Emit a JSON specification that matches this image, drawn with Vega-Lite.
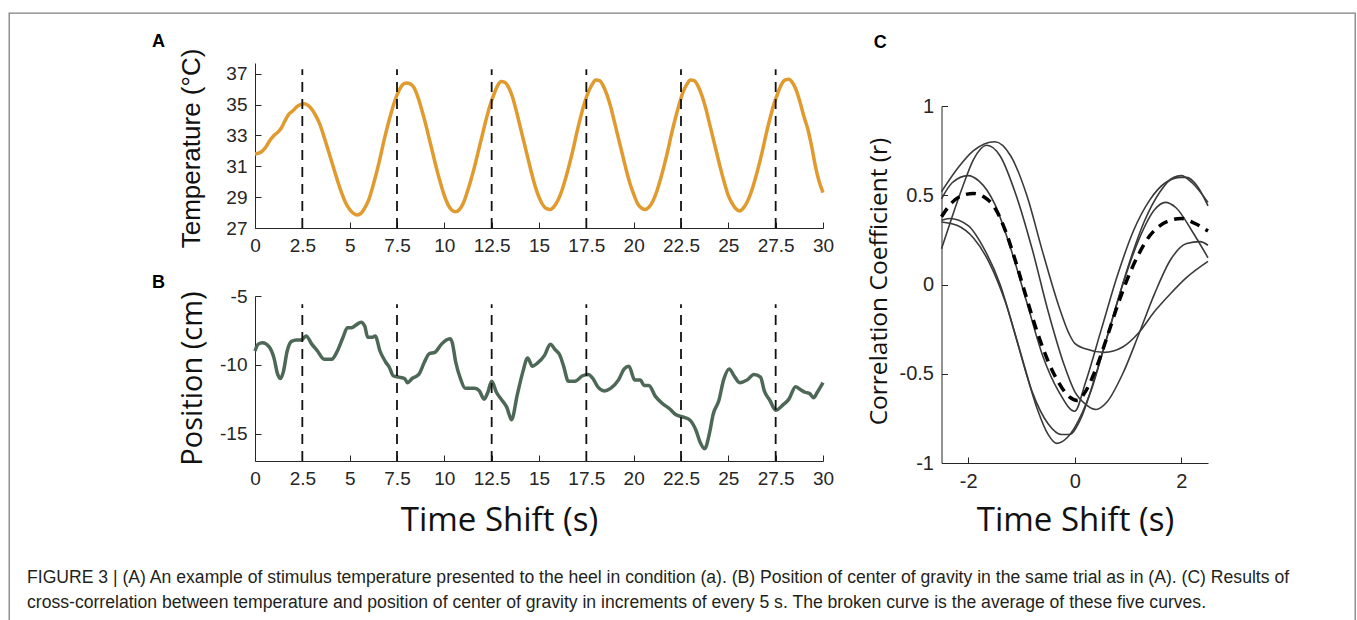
{
  "$schema": "https://vega.github.io/schema/vega-lite/v6.json",
  "width": 1346,
  "height": 608,
  "autosize": "none",
  "padding": {"left": 9, "top": 13, "right": 2, "bottom": 0},
  "background": "white",
  "title": {
    "text": [
      "FIGURE 3 | (A) An example of stimulus temperature presented to the heel in condition (a). (B) Position of center of gravity in the same trial as in (A). (C) Results of",
      "cross-correlation between temperature and position of center of gravity in increments of every 5 s. The broken curve is the average of these five curves."
    ],
    "orient": "bottom",
    "anchor": "start",
    "frame": "group",
    "offset": -52,
    "dx": 18,
    "font": "Liberation Sans",
    "fontSize": 17.6,
    "fontWeight": "normal",
    "color": "#231f20",
    "lineHeight": 25,
    "baseline": "top"
  },
  "config": {
    "view": {"stroke": "#808080", "strokeWidth": 1.3},
    "axis": {
      "domainColor": "#262626",
      "tickColor": "#262626",
      "labelColor": "#262626",
      "titleColor": "#111111",
      "grid": false,
      "tickSize": -6,
      "tickWidth": 1,
      "domainWidth": 1,
      "labelFlush": false,
      "labelOverlap": false,
      "titleFontWeight": "normal",
      "labelExpr": "datum.value + ''"
    }
  },
  "datasets": {
    "temp": [
      {"t":0,"v":31.8},{"t":0.2,"v":31.85},{"t":0.4,"v":32.0},{"t":0.6,"v":32.3},{"t":0.8,"v":32.7},{"t":1.0,"v":33.0},{"t":1.2,"v":33.2},{"t":1.4,"v":33.5},{"t":1.6,"v":34.0},{"t":1.8,"v":34.4},{"t":2.0,"v":34.6},{"t":2.2,"v":34.85},{"t":2.4,"v":35.0},{"t":2.6,"v":35.05},{"t":2.8,"v":34.95},{"t":3.0,"v":34.7},{"t":3.2,"v":34.3},{"t":3.4,"v":33.8},{"t":3.6,"v":33.1},{"t":3.8,"v":32.3},{"t":4.0,"v":31.5},{"t":4.2,"v":30.7},{"t":4.4,"v":29.9},{"t":4.6,"v":29.2},{"t":4.8,"v":28.6},{"t":5.0,"v":28.2},{"t":5.2,"v":27.95},{"t":5.4,"v":27.85},{"t":5.6,"v":27.95},{"t":5.8,"v":28.3},{"t":6.0,"v":28.8},{"t":6.2,"v":29.6},{"t":6.4,"v":30.5},{"t":6.6,"v":31.5},{"t":6.8,"v":32.6},{"t":7.0,"v":33.6},{"t":7.2,"v":34.5},{"t":7.4,"v":35.3},{"t":7.6,"v":35.9},{"t":7.8,"v":36.3},{"t":8.0,"v":36.4},{"t":8.2,"v":36.35},{"t":8.4,"v":36.1},{"t":8.6,"v":35.5},{"t":8.8,"v":34.7},{"t":9.0,"v":33.8},{"t":9.2,"v":32.8},{"t":9.4,"v":31.8},{"t":9.6,"v":30.8},{"t":9.8,"v":29.9},{"t":10.0,"v":29.1},{"t":10.2,"v":28.5},{"t":10.4,"v":28.15},{"t":10.6,"v":28.05},{"t":10.8,"v":28.2},{"t":11.0,"v":28.6},{"t":11.2,"v":29.3},{"t":11.4,"v":30.1},{"t":11.6,"v":31.0},{"t":11.8,"v":32.0},{"t":12.0,"v":33.0},{"t":12.2,"v":34.0},{"t":12.4,"v":34.9},{"t":12.6,"v":35.6},{"t":12.8,"v":36.2},{"t":13.0,"v":36.5},{"t":13.2,"v":36.45},{"t":13.4,"v":36.1},{"t":13.6,"v":35.5},{"t":13.8,"v":34.6},{"t":14.0,"v":33.6},{"t":14.2,"v":32.6},{"t":14.4,"v":31.6},{"t":14.6,"v":30.6},{"t":14.8,"v":29.7},{"t":15.0,"v":29.0},{"t":15.2,"v":28.5},{"t":15.4,"v":28.25},{"t":15.6,"v":28.2},{"t":15.8,"v":28.4},{"t":16.0,"v":28.8},{"t":16.2,"v":29.4},{"t":16.4,"v":30.2},{"t":16.6,"v":31.1},{"t":16.8,"v":32.1},{"t":17.0,"v":33.2},{"t":17.2,"v":34.2},{"t":17.4,"v":35.1},{"t":17.6,"v":35.8},{"t":17.8,"v":36.3},{"t":18.0,"v":36.6},{"t":18.2,"v":36.55},{"t":18.4,"v":36.2},{"t":18.6,"v":35.6},{"t":18.8,"v":34.8},{"t":19.0,"v":33.8},{"t":19.2,"v":32.8},{"t":19.4,"v":31.8},{"t":19.6,"v":30.8},{"t":19.8,"v":29.9},{"t":20.0,"v":29.2},{"t":20.2,"v":28.6},{"t":20.4,"v":28.3},{"t":20.6,"v":28.2},{"t":20.8,"v":28.35},{"t":21.0,"v":28.7},{"t":21.2,"v":29.3},{"t":21.4,"v":30.1},{"t":21.6,"v":31.0},{"t":21.8,"v":32.0},{"t":22.0,"v":33.1},{"t":22.2,"v":34.1},{"t":22.4,"v":35.0},{"t":22.6,"v":35.8},{"t":22.8,"v":36.3},{"t":23.0,"v":36.6},{"t":23.2,"v":36.55},{"t":23.4,"v":36.2},{"t":23.6,"v":35.6},{"t":23.8,"v":34.8},{"t":24.0,"v":33.8},{"t":24.2,"v":32.8},{"t":24.4,"v":31.8},{"t":24.6,"v":30.8},{"t":24.8,"v":29.9},{"t":25.0,"v":29.1},{"t":25.2,"v":28.6},{"t":25.4,"v":28.25},{"t":25.6,"v":28.1},{"t":25.8,"v":28.3},{"t":26.0,"v":28.7},{"t":26.2,"v":29.3},{"t":26.4,"v":30.1},{"t":26.6,"v":31.0},{"t":26.8,"v":32.0},{"t":27.0,"v":33.1},{"t":27.2,"v":34.1},{"t":27.4,"v":35.0},{"t":27.6,"v":35.7},{"t":27.8,"v":36.3},{"t":28.0,"v":36.6},{"t":28.2,"v":36.65},{"t":28.4,"v":36.4},{"t":28.6,"v":35.9},{"t":28.8,"v":35.1},{"t":29.0,"v":34.2},{"t":29.2,"v":33.4},{"t":29.4,"v":32.3},{"t":29.6,"v":31.0},{"t":29.8,"v":30.0},{"t":30.0,"v":29.3}
    ],
    "pos": [
      {"t":0,"v":-9.0},{"t":0.17,"v":-8.5},{"t":0.4,"v":-8.4},{"t":0.75,"v":-8.7},{"t":1.0,"v":-9.5},{"t":1.2,"v":-10.7},{"t":1.35,"v":-11.0},{"t":1.5,"v":-10.5},{"t":1.7,"v":-9.0},{"t":1.93,"v":-8.3},{"t":2.2,"v":-8.2},{"t":2.45,"v":-8.2},{"t":2.7,"v":-7.9},{"t":3.0,"v":-8.5},{"t":3.3,"v":-9.0},{"t":3.65,"v":-9.6},{"t":4.05,"v":-9.6},{"t":4.35,"v":-9.0},{"t":4.65,"v":-8.0},{"t":4.88,"v":-7.3},{"t":5.1,"v":-7.3},{"t":5.35,"v":-7.1},{"t":5.6,"v":-6.9},{"t":5.8,"v":-7.2},{"t":5.95,"v":-8.0},{"t":6.2,"v":-8.0},{"t":6.35,"v":-7.9},{"t":6.6,"v":-9.0},{"t":6.9,"v":-9.8},{"t":7.1,"v":-10.2},{"t":7.3,"v":-10.8},{"t":7.6,"v":-10.9},{"t":7.9,"v":-11.0},{"t":8.05,"v":-11.3},{"t":8.3,"v":-11.0},{"t":8.65,"v":-10.7},{"t":8.95,"v":-9.8},{"t":9.2,"v":-9.2},{"t":9.5,"v":-9.1},{"t":9.85,"v":-8.5},{"t":10.1,"v":-8.2},{"t":10.3,"v":-8.1},{"t":10.42,"v":-8.4},{"t":10.6,"v":-9.8},{"t":10.85,"v":-11.0},{"t":11.1,"v":-11.7},{"t":11.6,"v":-11.7},{"t":11.85,"v":-11.9},{"t":12.1,"v":-12.5},{"t":12.3,"v":-12.0},{"t":12.5,"v":-11.2},{"t":12.75,"v":-12.0},{"t":13.0,"v":-12.5},{"t":13.3,"v":-13.1},{"t":13.55,"v":-14.0},{"t":13.85,"v":-12.2},{"t":14.15,"v":-10.5},{"t":14.4,"v":-9.5},{"t":14.65,"v":-10.1},{"t":14.9,"v":-9.9},{"t":15.3,"v":-9.3},{"t":15.6,"v":-8.5},{"t":15.85,"v":-8.9},{"t":16.1,"v":-9.3},{"t":16.3,"v":-10.1},{"t":16.55,"v":-11.2},{"t":16.9,"v":-11.2},{"t":17.3,"v":-10.8},{"t":17.6,"v":-10.7},{"t":17.85,"v":-11.0},{"t":18.1,"v":-11.6},{"t":18.45,"v":-11.9},{"t":18.8,"v":-11.7},{"t":19.2,"v":-11.1},{"t":19.5,"v":-10.3},{"t":19.75,"v":-10.1},{"t":20.05,"v":-11.1},{"t":20.35,"v":-11.1},{"t":20.55,"v":-11.5},{"t":20.8,"v":-11.5},{"t":21.15,"v":-12.3},{"t":21.5,"v":-12.8},{"t":21.9,"v":-13.2},{"t":22.2,"v":-13.6},{"t":22.6,"v":-13.8},{"t":22.95,"v":-14.0},{"t":23.3,"v":-14.8},{"t":23.5,"v":-15.6},{"t":23.75,"v":-16.1},{"t":24.0,"v":-15.0},{"t":24.2,"v":-13.6},{"t":24.5,"v":-12.6},{"t":24.75,"v":-11.1},{"t":25.05,"v":-10.3},{"t":25.3,"v":-10.8},{"t":25.6,"v":-11.3},{"t":26.0,"v":-11.1},{"t":26.35,"v":-10.7},{"t":26.7,"v":-10.9},{"t":26.9,"v":-11.9},{"t":27.2,"v":-12.6},{"t":27.5,"v":-13.3},{"t":27.9,"v":-12.9},{"t":28.2,"v":-12.5},{"t":28.55,"v":-11.6},{"t":28.8,"v":-11.8},{"t":29.05,"v":-12.0},{"t":29.3,"v":-12.1},{"t":29.5,"v":-12.4},{"t":29.7,"v":-12.0},{"t":30.0,"v":-11.3}
    ],
    "marks": [{"t":2.5},{"t":7.5},{"t":12.5},{"t":17.5},{"t":22.5},{"t":27.5}],
    "corr": [
      {"c":"a","t":-2.5,"r":0.35},{"c":"a","t":-2.2,"r":0.33},{"c":"a","t":-1.9,"r":0.26},{"c":"a","t":-1.6,"r":0.12},{"c":"a","t":-1.3,"r":-0.1},{"c":"a","t":-1.0,"r":-0.4},{"c":"a","t":-0.7,"r":-0.7},{"c":"a","t":-0.5,"r":-0.84},{"c":"a","t":-0.34,"r":-0.89},{"c":"a","t":-0.15,"r":-0.86},{"c":"a","t":0,"r":-0.8},{"c":"a","t":0.3,"r":-0.6},{"c":"a","t":0.6,"r":-0.3},{"c":"a","t":0.9,"r":0.0},{"c":"a","t":1.2,"r":0.25},{"c":"a","t":1.5,"r":0.42},{"c":"a","t":1.7,"r":0.46},{"c":"a","t":1.9,"r":0.43},{"c":"a","t":2.2,"r":0.3},{"c":"a","t":2.5,"r":0.15},
      {"c":"b","t":-2.5,"r":0.36},{"c":"b","t":-2.35,"r":0.37},{"c":"b","t":-2.0,"r":0.33},{"c":"b","t":-1.7,"r":0.2},{"c":"b","t":-1.4,"r":0.0},{"c":"b","t":-1.1,"r":-0.3},{"c":"b","t":-0.8,"r":-0.6},{"c":"b","t":-0.5,"r":-0.78},{"c":"b","t":-0.25,"r":-0.84},{"c":"b","t":-0.1,"r":-0.84},{"c":"b","t":0.1,"r":-0.76},{"c":"b","t":0.4,"r":-0.5},{"c":"b","t":0.7,"r":-0.2},{"c":"b","t":1.0,"r":0.1},{"c":"b","t":1.3,"r":0.35},{"c":"b","t":1.6,"r":0.52},{"c":"b","t":1.85,"r":0.6},{"c":"b","t":2.0,"r":0.61},{"c":"b","t":2.2,"r":0.57},{"c":"b","t":2.5,"r":0.46},
      {"c":"c","t":-2.5,"r":0.48},{"c":"c","t":-2.3,"r":0.57},{"c":"c","t":-2.0,"r":0.61},{"c":"c","t":-1.8,"r":0.58},{"c":"c","t":-1.5,"r":0.45},{"c":"c","t":-1.2,"r":0.2},{"c":"c","t":-0.9,"r":-0.1},{"c":"c","t":-0.6,"r":-0.4},{"c":"c","t":-0.3,"r":-0.6},{"c":"c","t":0,"r":-0.71},{"c":"c","t":0.2,"r":-0.55},{"c":"c","t":0.5,"r":-0.25},{"c":"c","t":0.8,"r":0.05},{"c":"c","t":1.1,"r":0.3},{"c":"c","t":1.4,"r":0.47},{"c":"c","t":1.7,"r":0.57},{"c":"c","t":2.0,"r":0.6},{"c":"c","t":2.1,"r":0.6},{"c":"c","t":2.3,"r":0.55},{"c":"c","t":2.5,"r":0.44},
      {"c":"d","t":-2.5,"r":0.2},{"c":"d","t":-2.3,"r":0.38},{"c":"d","t":-2.1,"r":0.55},{"c":"d","t":-1.9,"r":0.7},{"c":"d","t":-1.65,"r":0.78},{"c":"d","t":-1.4,"r":0.72},{"c":"d","t":-1.1,"r":0.5},{"c":"d","t":-0.8,"r":0.2},{"c":"d","t":-0.5,"r":-0.15},{"c":"d","t":-0.2,"r":-0.45},{"c":"d","t":0,"r":-0.6},{"c":"d","t":0.2,"r":-0.67},{"c":"d","t":0.4,"r":-0.7},{"c":"d","t":0.6,"r":-0.66},{"c":"d","t":0.9,"r":-0.5},{"c":"d","t":1.2,"r":-0.28},{"c":"d","t":1.5,"r":-0.05},{"c":"d","t":1.8,"r":0.14},{"c":"d","t":2.1,"r":0.23},{"c":"d","t":2.35,"r":0.24},{"c":"d","t":2.5,"r":0.22},
      {"c":"e","t":-2.5,"r":0.52},{"c":"e","t":-2.2,"r":0.65},{"c":"e","t":-1.9,"r":0.75},{"c":"e","t":-1.5,"r":0.8},{"c":"e","t":-1.2,"r":0.72},{"c":"e","t":-0.9,"r":0.5},{"c":"e","t":-0.6,"r":0.18},{"c":"e","t":-0.3,"r":-0.12},{"c":"e","t":-0.1,"r":-0.28},{"c":"e","t":0,"r":-0.33},{"c":"e","t":0.2,"r":-0.36},{"c":"e","t":0.55,"r":-0.38},{"c":"e","t":0.9,"r":-0.35},{"c":"e","t":1.2,"r":-0.27},{"c":"e","t":1.5,"r":-0.15},{"c":"e","t":1.8,"r":-0.05},{"c":"e","t":2.1,"r":0.04},{"c":"e","t":2.5,"r":0.13}
    ],
    "avg": [
      {"t":-2.5,"r":0.38},{"t":-2.3,"r":0.46},{"t":-2.1,"r":0.5},{"t":-1.9,"r":0.51},{"t":-1.7,"r":0.49},{"t":-1.5,"r":0.43},{"t":-1.3,"r":0.3},{"t":-1.1,"r":0.12},{"t":-0.9,"r":-0.08},{"t":-0.7,"r":-0.27},{"t":-0.5,"r":-0.43},{"t":-0.3,"r":-0.55},{"t":-0.1,"r":-0.63},{"t":0.05,"r":-0.65},{"t":0.2,"r":-0.6},{"t":0.4,"r":-0.47},{"t":0.6,"r":-0.3},{"t":0.8,"r":-0.12},{"t":1.0,"r":0.04},{"t":1.2,"r":0.17},{"t":1.4,"r":0.27},{"t":1.6,"r":0.33},{"t":1.8,"r":0.36},{"t":2.0,"r":0.37},{"t":2.2,"r":0.35},{"t":2.5,"r":0.3}
    ]
  },
  "layer": [
    {
      "layer": [
        {
          "data": {"name": "temp"},
          "mark": {"type": "line", "color": "#E09A2E", "strokeWidth": 3.5, "interpolate": "monotone"},
          "encoding": {
            "x": {"field": "t", "type": "quantitative",
              "scale": {"domain": [0, 30], "range": [246, 814]},
              "axis": {"orient": "bottom", "offset": -393, "title": null,
                "values": [0, 2.5, 5, 7.5, 10, 12.5, 15, 17.5, 20, 22.5, 25, 27.5, 30],
                "labelFont": "Liberation Sans", "labelFontSize": 19, "labelPadding": 14}},
            "y": {"field": "v", "type": "quantitative",
              "scale": {"domain": [27, 37.7], "range": [215, 50]},
              "axis": {"orient": "left", "offset": -246, "title": "Temperature (°C)",
                "values": [27, 29, 31, 33, 35, 37],
                "labelFont": "Liberation Sans", "labelFontSize": 19, "labelPadding": 14,
                "titleFont": "Liberation Sans", "titleFontSize": 26, "titleAngle": -90,
                "titleX": -64, "titleY": 135, "titleAlign": "center", "titleBaseline": "middle"}}
          }
        },
        {
          "data": {"name": "marks"},
          "mark": {"type": "rule", "color": "#111111", "strokeWidth": 1.8, "strokeDash": [10, 7]},
          "encoding": {
            "x": {"field": "t", "type": "quantitative", "scale": {"domain": [0, 30], "range": [246, 814]}},
            "y": {"datum": 27, "type": "quantitative", "scale": {"domain": [27, 37.7], "range": [215, 50]}},
            "y2": {"datum": 37.3}
          }
        },
        {
          "data": {"values": [{"label": "A"}]},
          "mark": {"type": "text", "font": "Liberation Sans", "fontSize": 18, "fontWeight": "bold", "align": "center", "baseline": "middle", "color": "#000000"},
          "encoding": {
            "text": {"field": "label"},
            "x": {"datum": -5.1, "type": "quantitative", "scale": {"domain": [0, 30], "range": [246, 814]}},
            "y": {"datum": 39.06, "type": "quantitative", "scale": {"domain": [27, 37.7], "range": [215, 50]}}
          }
        }
      ]
    },
    {
      "layer": [
        {
          "data": {"name": "pos"},
          "mark": {"type": "line", "color": "#4E6857", "strokeWidth": 3.5, "interpolate": "monotone"},
          "encoding": {
            "x": {"field": "t", "type": "quantitative",
              "scale": {"domain": [0, 30], "range": [246, 814]},
              "axis": {"orient": "bottom", "offset": -160, "title": "Time Shift (s)",
                "values": [0, 2.5, 5, 7.5, 10, 12.5, 15, 17.5, 20, 22.5, 25, 27.5, 30],
                "labelFont": "Liberation Sans", "labelFontSize": 19, "labelPadding": 14,
                "titleFont": "Open Sans", "titleFontSize": 33, "titleX": 490, "titleY": 69,
                "titleAlign": "center", "titleBaseline": "alphabetic"}},
            "y": {"field": "v", "type": "quantitative",
              "scale": {"domain": [-17, -5], "range": [448, 283]},
              "axis": {"orient": "left", "offset": -246, "title": "Position (cm)",
                "values": [-15, -10, -5],
                "labelFont": "Liberation Sans", "labelFontSize": 19, "labelPadding": 14,
                "titleFont": "Open Sans", "titleFontSize": 29, "titleAngle": -90,
                "titleX": -63, "titleY": 365, "titleAlign": "center", "titleBaseline": "middle"}}
          }
        },
        {
          "data": {"name": "marks"},
          "mark": {"type": "rule", "color": "#111111", "strokeWidth": 1.8, "strokeDash": [10, 7]},
          "encoding": {
            "x": {"field": "t", "type": "quantitative", "scale": {"domain": [0, 30], "range": [246, 814]}},
            "y": {"datum": -17, "type": "quantitative", "scale": {"domain": [-17, -5], "range": [448, 283]}},
            "y2": {"datum": -5.6}
          }
        },
        {
          "data": {"values": [{"label": "B"}]},
          "mark": {"type": "text", "font": "Liberation Sans", "fontSize": 18, "fontWeight": "bold", "align": "center", "baseline": "middle", "color": "#000000"},
          "encoding": {
            "text": {"field": "label"},
            "x": {"datum": -5.1, "type": "quantitative", "scale": {"domain": [0, 30], "range": [246, 814]}},
            "y": {"datum": -4.05, "type": "quantitative", "scale": {"domain": [-17, -5], "range": [448, 283]}}
          }
        }
      ]
    },
    {
      "layer": [
        {
          "data": {"name": "corr"},
          "mark": {"type": "line", "color": "#3a3a3a", "strokeWidth": 1.6, "interpolate": "monotone"},
          "encoding": {
            "detail": {"field": "c"},
            "x": {"field": "t", "type": "quantitative",
              "scale": {"domain": [-2.5, 2.5], "range": [932.5, 1199]},
              "axis": {"orient": "bottom", "offset": -158, "title": "Time Shift (s)",
                "values": [-2, 0, 2],
                "labelFont": "Liberation Sans", "labelFontSize": 20, "labelPadding": 14,
                "titleFont": "Open Sans", "titleFontSize": 33, "titleX": 1066, "titleY": 67,
                "titleAlign": "center", "titleBaseline": "alphabetic"}},
            "y": {"field": "r", "type": "quantitative",
              "scale": {"domain": [-1, 1], "range": [450, 93]},
              "axis": {"orient": "left", "offset": -932.5, "title": "Correlation Coefficient (r)",
                "values": [-1, -0.5, 0, 0.5, 1],
                "labelFont": "Liberation Sans", "labelFontSize": 20, "labelPadding": 14,
                "titleFont": "Open Sans", "titleFontSize": 24.5, "titleAngle": -90,
                "titleX": -62, "titleY": 268, "titleAlign": "center", "titleBaseline": "middle"}}
          }
        },
        {
          "data": {"name": "avg"},
          "mark": {"type": "line", "color": "#000000", "strokeWidth": 3.5, "strokeDash": [10, 7], "interpolate": "monotone"},
          "encoding": {
            "x": {"field": "t", "type": "quantitative", "scale": {"domain": [-2.5, 2.5], "range": [932.5, 1199]}},
            "y": {"field": "r", "type": "quantitative", "scale": {"domain": [-1, 1], "range": [450, 93]}}
          }
        },
        {
          "data": {"values": [{"label": "C"}]},
          "mark": {"type": "text", "font": "Liberation Sans", "fontSize": 18, "fontWeight": "bold", "align": "center", "baseline": "middle", "color": "#000000"},
          "encoding": {
            "text": {"field": "label"},
            "x": {"datum": -3.65, "type": "quantitative", "scale": {"domain": [-2.5, 2.5], "range": [932.5, 1199]}},
            "y": {"datum": 1.353, "type": "quantitative", "scale": {"domain": [-1, 1], "range": [450, 93]}}
          }
        }
      ]
    }
  ],
  "resolve": {
    "scale": {"x": "independent", "y": "independent"},
    "axis": {"x": "independent", "y": "independent"}
  }
}
